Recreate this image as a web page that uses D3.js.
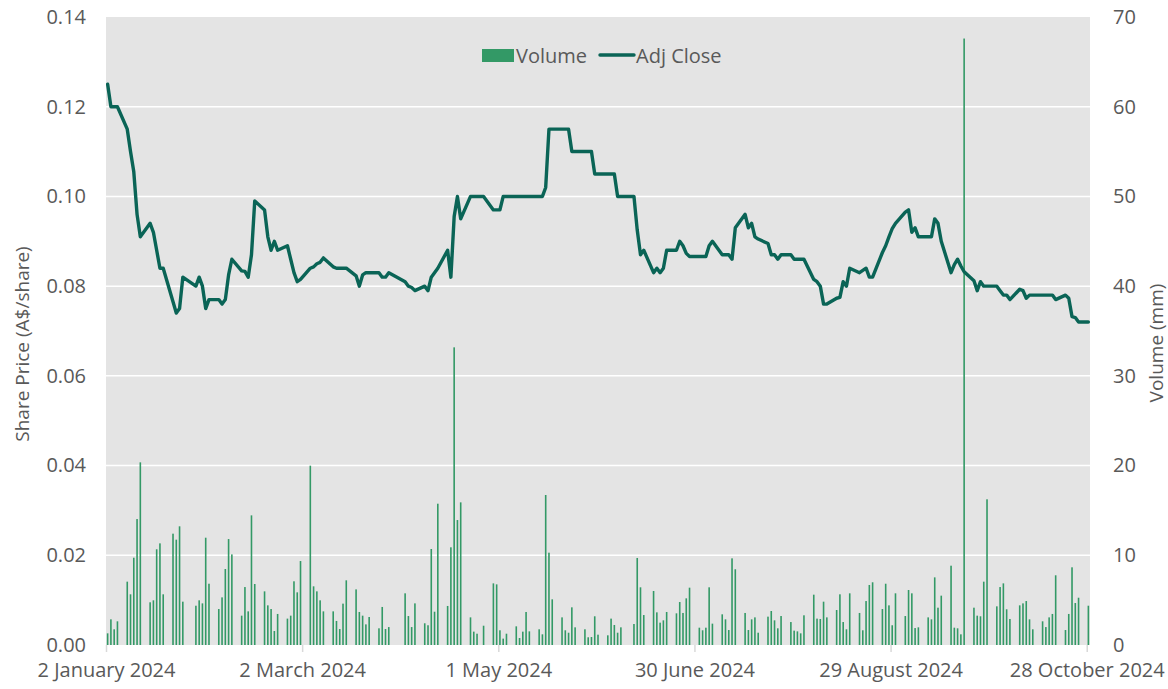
<!DOCTYPE html>
<html>
<head>
<meta charset="utf-8">
<script src="https://cdn.jsdelivr.net/npm/d3@7"></script>
<style>
  html, body { margin: 0; padding: 0; background: #ffffff; }
  svg { display: block; font-family: "Open Sans", "Noto Sans", sans-serif; }
</style>
</head>
<body>
<svg id="chart" width="1168" height="689"></svg>
<script>
// ---------------- DATA ----------------
const firstDay = "2024-01-02";
const lastDay = "2024-10-28";
const holidays = ["2024-01-26", "2024-03-29", "2024-04-01", "2024-04-25", "2024-06-10"];

// Adj Close (A$/share), one value per trading day, by month
const closeJan = [0.125, 0.120, 0.120, 0.120, 0.115, 0.110, 0.1055, 0.096, 0.091, 0.094, 0.092, 0.088, 0.084, 0.084, 0.0765, 0.074, 0.075, 0.082, 0.080, 0.082, 0.080];
const closeFeb = [0.075, 0.077, 0.077, 0.076, 0.077, 0.0825, 0.086, 0.0834, 0.0833, 0.082, 0.087, 0.099, 0.097, 0.091, 0.088, 0.090, 0.088, 0.089, 0.086, 0.083, 0.081];
const closeMar = [0.0815, 0.084, 0.0843, 0.085, 0.0853, 0.0863, 0.0843, 0.084, 0.084, 0.084, 0.084, 0.0823, 0.080, 0.0825, 0.083, 0.083, 0.083, 0.082, 0.082, 0.083];
const closeApr = [0.081, 0.080, 0.0797, 0.079, 0.080, 0.079, 0.082, 0.083, 0.084, 0.088, 0.082, 0.0955, 0.100, 0.095, 0.100, 0.100, 0.100, 0.100, 0.097, 0.097];
const closeMay = [0.097, 0.100, 0.100, 0.100, 0.100, 0.100, 0.100, 0.100, 0.100, 0.100, 0.102, 0.115, 0.115, 0.115, 0.115, 0.115, 0.110, 0.110, 0.110, 0.110, 0.110, 0.105, 0.105];
const closeJun = [0.105, 0.105, 0.105, 0.100, 0.100, 0.100, 0.0925, 0.087, 0.088, 0.083, 0.084, 0.083, 0.084, 0.088, 0.088, 0.090, 0.089, 0.0873, 0.0866];
const closeJul = [0.0866, 0.0866, 0.0866, 0.089, 0.090, 0.087, 0.087, 0.087, 0.086, 0.093, 0.096, 0.093, 0.094, 0.091, 0.0905, 0.0895, 0.087, 0.087, 0.086, 0.087, 0.087, 0.086, 0.086];
const closeAug = [0.086, 0.086, 0.0815, 0.081, 0.080, 0.076, 0.076, 0.0773, 0.0775, 0.081, 0.080, 0.084, 0.083, 0.0835, 0.084, 0.082, 0.082, 0.0875, 0.089, 0.091, 0.0928, 0.094];
const closeSep = [0.0965, 0.097, 0.092, 0.093, 0.091, 0.091, 0.091, 0.095, 0.094, 0.090, 0.083, 0.0848, 0.086, 0.0845, 0.0832, 0.0812, 0.079, 0.081, 0.080, 0.080, 0.080];
const closeOct = [0.079, 0.078, 0.078, 0.077, 0.0793, 0.079, 0.0773, 0.078, 0.078, 0.078, 0.078, 0.078, 0.078, 0.077, 0.078, 0.0773, 0.0732, 0.073, 0.072, 0.072];

// Volume (millions), one value per trading day, by month
const volJan = [1.3, 2.86, 1.75, 2.64, 7.06, 5.65, 9.73, 14.04, 20.36, 4.76, 4.98, 10.67, 11.33, 5.65, 12.41, 11.74, 13.23, 4.83, 4.38, 4.98, 4.64];
const volFeb = [11.96, 6.83, 4.01, 5.31, 8.47, 11.81, 10.1, 3.27, 6.46, 3.75, 14.45, 6.8, 5.98, 4.42, 4.01, 1.56, 3.46, 2.94, 3.27, 7.1, 5.87];
const volMar = [9.36, 19.99, 6.54, 5.98, 4.98, 3.75, 3.75, 2.68, 1.78, 4.61, 7.21, 6.2, 3.68, 3.27, 2.3, 3.12, 1.86, 4.24, 1.78, 2.0];
const volApr = [5.76, 3.23, 2.0, 4.64, 2.42, 2.2, 10.7, 3.71, 15.75, 4.35, 10.89, 33.18, 13.93, 15.9, 3.08, 1.49, 1.26, 2.15, 6.87, 6.76];
const volMay = [1.64, 0.71, 1.26, 2.08, 0.78, 1.49, 3.68, 1.52, 1.75, 1.19, 16.72, 10.29, 5.09, 3.08, 1.64, 1.37, 4.2, 1.97, 1.75, 0.86, 0.89, 3.2, 1.15];
const volJun = [1.08, 2.94, 2.23, 1.37, 1.97, 2.34, 9.7, 6.43, 3.34, 6.02, 3.64, 2.49, 2.75, 3.68, 3.53, 4.79, 3.57, 5.2, 6.39];
const volJul = [1.93, 1.64, 1.93, 6.43, 2.38, 3.42, 2.86, 1.67, 9.66, 8.44, 3.57, 1.67, 2.86, 3.08, 1.37, 3.16, 3.79, 2.75, 1.86, 3.23, 2.56, 1.6, 1.52];
const volAug = [1.3, 3.31, 5.61, 2.94, 2.9, 4.83, 3.08, 3.9, 5.65, 2.56, 1.75, 5.76, 3.57, 1.64, 4.9, 6.69, 6.99, 4.01, 6.83, 4.42, 2.2, 5.76];
const volSep = [3.23, 6.13, 5.76, 1.89, 1.97, 3.08, 2.86, 7.54, 4.16, 5.5, 8.84, 1.93, 1.86, 1.19, 67.6, 4.16, 3.27, 3.2, 7.06, 16.24, 4.31];
const volOct = [6.46, 6.87, 3.98, 2.9, 4.42, 4.64, 4.9, 2.86, 1.75, 2.64, 2.0, 3.08, 3.46, 7.77, 1.67, 3.46, 8.66, 4.68, 5.27, 4.38];

// Axis ticks
const xTickDates = ["2024-01-02", "2024-03-02", "2024-05-01", "2024-06-30", "2024-08-29", "2024-10-28"];
const xTickLabels = ["2 January 2024", "2 March 2024", "1 May 2024", "30 June 2024", "29 August 2024", "28 October 2024"];
const priceTicks = [0, 0.02, 0.04, 0.06, 0.08, 0.10, 0.12, 0.14];
const volumeTicks = [0, 10, 20, 30, 40, 50, 60, 70];
const seriesNames = ["Volume", "Adj Close"];

// ---------------- BUILD ----------------
const parse = d3.utcParse("%Y-%m-%d");
const fmt = d3.utcFormat("%Y-%m-%d");
const holidaySet = new Set(holidays);
const tradingDays = d3.utcDay.range(parse(firstDay), d3.utcDay.offset(parse(lastDay), 1))
  .filter(d => d.getUTCDay() !== 0 && d.getUTCDay() !== 6 && !holidaySet.has(fmt(d)));

const closes = [].concat(closeJan, closeFeb, closeMar, closeApr, closeMay, closeJun, closeJul, closeAug, closeSep, closeOct);
const volumes = [].concat(volJan, volFeb, volMar, volApr, volMay, volJun, volJul, volAug, volSep, volOct);
const data = tradingDays.map((d, i) => ({ date: d, close: closes[i], vol: volumes[i] }));

const L = 106, R = 1090, T = 17, B = 645;
const svg = d3.select("#chart");

const x = d3.scaleUtc()
  .domain([parse(firstDay), d3.utcDay.offset(parse(lastDay), 1)])
  .range([L, R]);
const xc = d => x(d3.utcHour.offset(d, 12)); // centre of the day cell
const yP = d3.scaleLinear().domain([0, 0.14]).range([B, T]);
const yV = d3.scaleLinear().domain([0, 70]).range([B, T]);

const textColor = "#595959";
const barColor = "#339966";
const lineColor = "#0a6456";

// plot background
svg.append("rect").attr("x", L).attr("y", T).attr("width", R - L).attr("height", B - T).attr("fill", "#e4e4e4");

// gridlines
svg.append("g").selectAll("line").data(priceTicks.filter(t => t > 0 && t < 0.14)).join("line")
  .attr("x1", L).attr("x2", R).attr("y1", d => yP(d)).attr("y2", d => yP(d))
  .attr("stroke", "#ffffff").attr("stroke-width", 1.5);

// volume bars
svg.append("g").selectAll("rect").data(data).join("rect")
  .attr("x", d => xc(d.date) - 0.8)
  .attr("width", 1.6)
  .attr("y", d => yV(d.vol))
  .attr("height", d => B - yV(d.vol))
  .attr("fill", barColor);

// price line
const line = d3.line().x(d => xc(d.date)).y(d => yP(d.close));
svg.append("path").datum(data).attr("d", line)
  .attr("fill", "none").attr("stroke", lineColor).attr("stroke-width", 3.4)
  .attr("stroke-linejoin", "round").attr("stroke-linecap", "round");

// x axis
const xAxis = d3.axisBottom(x)
  .tickValues(xTickDates.map(parse))
  .tickFormat((d, i) => xTickLabels[i])
  .tickSize(7).tickPadding(11);
const gx = svg.append("g").attr("transform", `translate(0,${B})`).call(xAxis);
gx.select(".domain").remove();
gx.selectAll(".tick line").attr("stroke", "#d9d9d9").attr("stroke-width", 1.5);
gx.selectAll(".tick text").attr("fill", textColor).style("font-size", "20px")
  .style("font-family", '"Open Sans", sans-serif');

// left axis
const yAxisL = d3.axisLeft(yP).tickValues(priceTicks).tickFormat(d3.format(".2f")).tickSize(0).tickPadding(20);
const gl = svg.append("g").attr("transform", `translate(${L},0)`).call(yAxisL);
gl.select(".domain").remove();
gl.selectAll(".tick text").attr("fill", textColor).style("font-size", "20px")
  .style("font-family", '"Open Sans", sans-serif');

// right axis
const yAxisR = d3.axisRight(yV).tickValues(volumeTicks).tickFormat(d3.format("d")).tickSize(0).tickPadding(23);
const gr = svg.append("g").attr("transform", `translate(${R},0)`).call(yAxisR);
gr.select(".domain").remove();
gr.selectAll(".tick text").attr("fill", textColor).style("font-size", "20px")
  .style("font-family", '"Open Sans", sans-serif');

// axis titles
svg.append("text").attr("transform", "translate(22,344) rotate(-90)")
  .attr("text-anchor", "middle").attr("dominant-baseline", "central")
  .attr("fill", textColor).style("font-size", "19px").text("Share Price (A$/share)");
svg.append("text").attr("transform", "translate(1156,343) rotate(-90)")
  .attr("text-anchor", "middle").attr("dominant-baseline", "central")
  .attr("fill", textColor).style("font-size", "19px").text("Volume (mm)");

// legend
const lg = svg.append("g");
lg.append("rect").attr("x", 482).attr("y", 49).attr("width", 32).attr("height", 13).attr("fill", barColor);
lg.append("text").attr("x", 516).attr("y", 55).attr("dominant-baseline", "central")
  .attr("fill", textColor).style("font-size", "20px").text(seriesNames[0]);
lg.append("line").attr("x1", 600).attr("x2", 634).attr("y1", 55).attr("y2", 55)
  .attr("stroke", lineColor).attr("stroke-width", 3.4).attr("stroke-linecap", "round");
lg.append("text").attr("x", 636).attr("y", 55).attr("dominant-baseline", "central")
  .attr("fill", textColor).style("font-size", "20px").text(seriesNames[1]);
</script>
</body>
</html>
